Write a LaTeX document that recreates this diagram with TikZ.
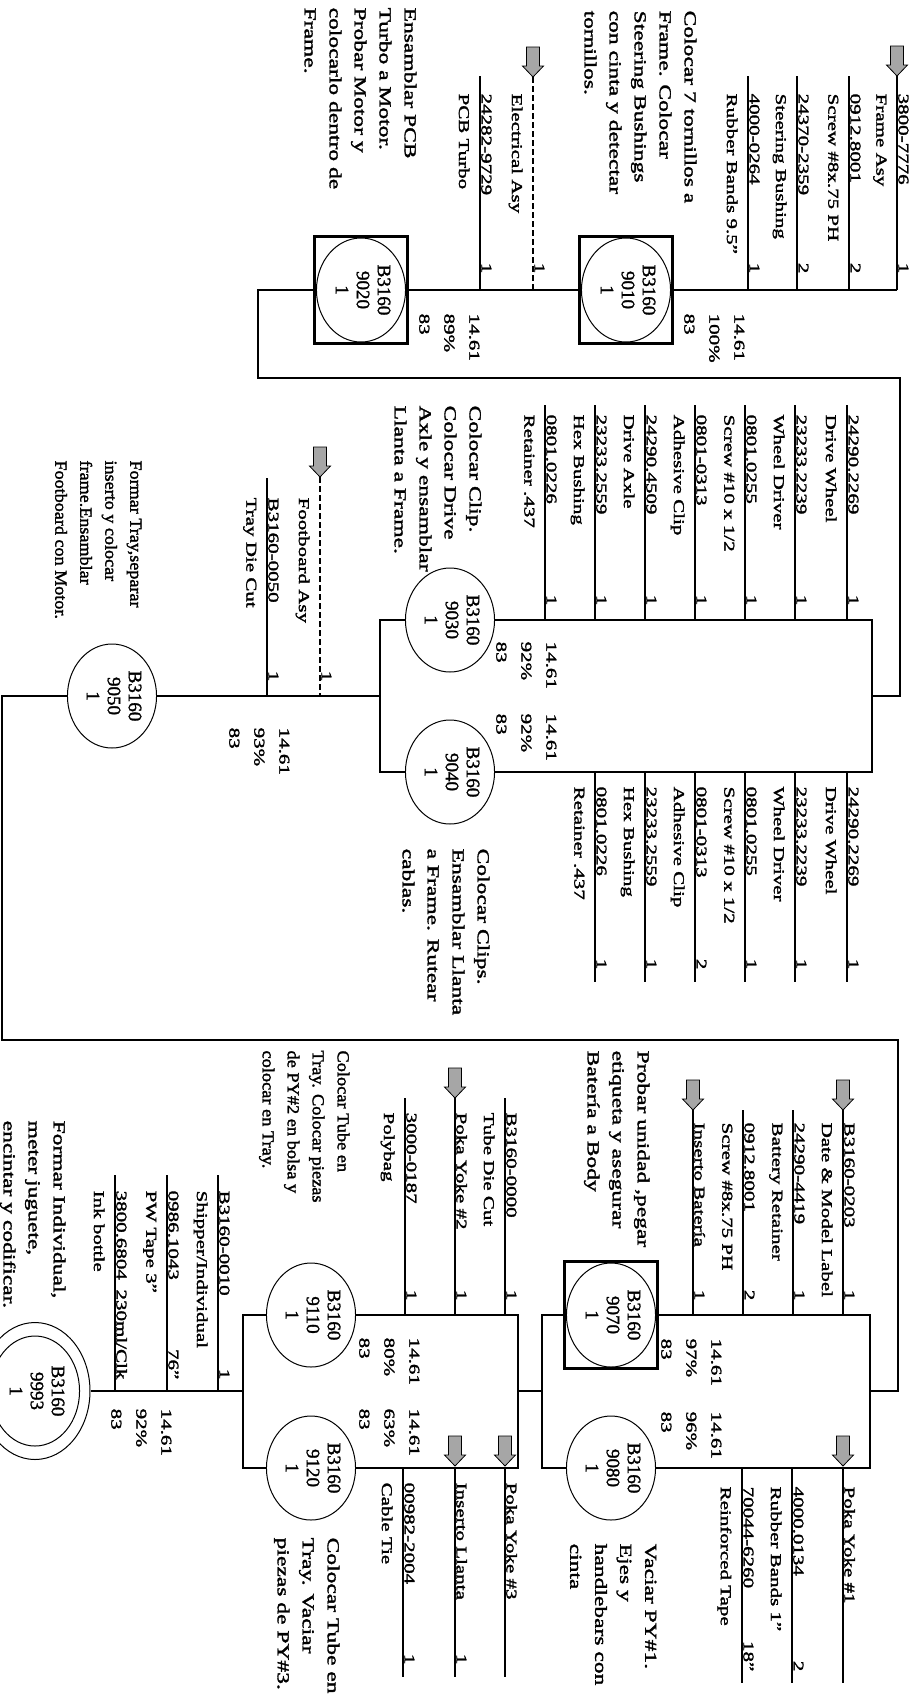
\documentclass[tikz,border=0pt]{standalone}
\usepackage{fontspec}
\setmainfont[FakeStretch=1.4,FakeBold=2]{Liberation Serif}
\newfontfamily\opfont[FakeBold=1.5]{Liberation Serif}
\usepackage{graphicx}
\usetikzlibrary{shapes.geometric}
\newcommand{\opid}[1]{\rotatebox{-90}{\begin{tabular}{@{}c@{}}B3160\\#1\\1\end{tabular}}}
\tikzset{
    feedarrow/.pic={\draw[fill=gray!70,line width=.8pt] (-6.5,-30) -- (6.5,-30) -- (6.5,-11) -- (10.5,-11) -- (0,0) -- (-10.5,-11) -- (-6.5,-11) -- cycle;}
}
\begin{document}
\begin{tikzpicture}[x=1pt,y=-1pt,line width=1.3pt,
        txt/.style={rotate=-90,inner sep=0pt,align=left,font=\fontsize{15}{25}\selectfont},
        desc/.style={txt,anchor=north west},
        opdesc/.style={desc,font=\fontsize{16.8}{25}\selectfont},
        stats/.style={desc},
        part/.style={txt,anchor=base west},
        qty/.style={txt,anchor=base east},
        opc/.style={ellipse,draw,line width=1pt,minimum width=88pt,minimum height=104pt,inner sep=0pt,font=\opfont\fontsize{19}{21}\selectfont},
        opbox/.style={rectangle,draw,line width=3.5pt,minimum width=93pt,minimum height=107pt},
        subasy/.style={dash pattern=on 6pt off 3pt}]
    \useasboundingbox (0,0) rectangle (910,1706);
    % operations
        \node[opc] (c9010) at (626,290) {\opid{9010}};
        \node[opbox] (s9010) at (626,290) {};
        \node[opc] (c9020) at (361,290) {\opid{9020}};
        \node[opbox] (s9020) at (361,290) {};
        \node[opc] (c9030) at (450,620) {\opid{9030}};
        \node[opc] (c9040) at (450,772) {\opid{9040}};
        \node[opc] (c9050) at (112,696) {\opid{9050}};
        \node[opc] (c9070) at (611,1315) {\opid{9070}};
        \node[opbox] (s9070) at (611,1315) {};
        \node[opc] (c9080) at (611,1468) {\opid{9080}};
        \node[opc] (c9110) at (311,1315) {\opid{9110}};
        \node[opc] (c9120) at (311,1468) {\opid{9120}};
        \node[opc,minimum width=86pt,minimum height=110pt] (c9993) at (35,1391) {\opid{9993}};
        \node[opc,minimum width=110pt,minimum height=137pt] (o9993) at (35,1391) {};
    % materials 9010 / 9020
        \foreach \x/\pn/\ds/\q in {897/3800-7776/Frame Asy/1,849/0912.8001/Screw \#8x.75 PH/2,797/24370-2359/Steering Bushing/2,748/4000-0264/Rubber Bands 9.5''/1,480/24282-9729/PCB Turbo/1}{
            \coordinate (ma\x) at (\x,76);
            \coordinate (na\x) at (\x,290);
            \draw (ma\x) -- (na\x);
            \node[part] (pa\x) at (\x+1.5,93) {\pn};
            \node[desc] (da\x) at (\x-10,93) {\ds};
            \node[qty] (qa\x) at (\x+1.5,274) {\q};
        }
        \coordinate (ma533) at (533,77);
        \coordinate (na533) at (533,290);
        \draw[subasy] (ma533) -- (na533);
        \node[desc] (da533) at (523,93) {Electrical Asy};
        \node[qty] (qa533) at (534.5,274) {1};
        \foreach \x in {897,533} \pic at (ma\x) {feedarrow};
    % materials 9030
        \foreach \x/\pn/\ds in {847/24290.2269/Drive Wheel,795/23233.2239/Wheel Driver,745/0801.0255/{Screw \#10 x 1/2},695/0801-0313/Adhesive Clip,645/24290.4509/Drive Axle,595/23233.2559/Hex Bushing,545/0801.0226/Retainer .437}{
            \coordinate (mb\x) at (\x,405);
            \coordinate (nb\x) at (\x,620);
            \draw (mb\x) -- (nb\x);
            \node[part] (pb\x) at (\x+1.5,414) {\pn};
            \node[desc] (db\x) at (\x-10,414) {\ds};
            \node[qty] (qb\x) at (\x+1.5,606) {1};
        }
    % materials 9040
        \foreach \x/\pn/\ds/\q in {847/24290.2269/Drive Wheel/1,795/23233.2239/Wheel Driver/1,745/0801.0255/{Screw \#10 x 1/2}/1,695/0801-0313/Adhesive Clip/2,645/23233.2559/Hex Bushing/1,595/0801.0226/Retainer .437/1}{
            \coordinate (mc\x) at (\x,772);
            \coordinate (nc\x) at (\x,982);
            \draw (mc\x) -- (nc\x);
            \node[part] (pc\x) at (\x+1.5,786) {\pn};
            \node[desc] (dc\x) at (\x-10,786) {\ds};
            \node[qty] (qc\x) at (\x+1.5,970) {\q};
        }
    % materials 9050
        \coordinate (md320) at (320,477);
        \coordinate (nd320) at (320,696);
        \pic at (md320) {feedarrow};
        \draw[subasy] (md320) -- (nd320);
        \node[desc] (dd320) at (310,497) {Footboard Asy};
        \node[qty] (qd320) at (321.5,682) {1};
        \coordinate (md267) at (267,478);
        \coordinate (nd267) at (267,696);
        \draw (md267) -- (nd267);
        \node[part] (pd267) at (268.5,497) {B3160-0050};
        \node[desc] (dd267) at (257,497) {Tray Die Cut};
        \node[qty] (qd267) at (268.5,682) {1};
    % materials 9070
        \foreach \x/\pn/\q in {843/B3160-0203/1,793/24290-4419/1,743/0912.8001/2,693/Inserto Batería/1}{
            \coordinate (me\x) at (\x,1110);
            \coordinate (ne\x) at (\x,1315);
            \draw (me\x) -- (ne\x);
            \node[part] (pe\x) at (\x+1.5,1122) {\pn};
            \node[qty] (qe\x) at (\x+1.5,1301) {\q};
        }
        \foreach \x/\ds in {843/Date \& Model Label,793/Battery Retainer,743/Screw \#8x.75 PH}
            \node[desc] (de\x) at (\x-10,1122) {\ds};
        \foreach \x in {843,693} \pic at (me\x) {feedarrow};
    % materials 9080
        \foreach \x/\pn in {843/Poka Yoke \#1,792/4000.0134,742/70044-6260}{
            \coordinate (mf\x) at (\x,1468);
            \coordinate (nf\x) at (\x,1683);
            \draw (mf\x) -- (nf\x);
            \node[part] (pf\x) at (\x+1.5,1486) {\pn};
        }
        \foreach \x/\ds/\q in {792/Rubber Bands 1''/2,742/Reinforced Tape/18''}{
            \node[desc] (df\x) at (\x-10,1486) {\ds};
            \node[qty] (qf\x) at (\x+1.5,1672) {\q};
        }
        \pic at (843,1466) {feedarrow};
    % materials 9110
        \foreach \x/\pn in {505/B3160-0000,455/Poka Yoke \#2,405/3000-0187}{
            \coordinate (mg\x) at (\x,1098);
            \coordinate (ng\x) at (\x,1315);
            \draw (mg\x) -- (ng\x);
            \node[part] (pg\x) at (\x+1.5,1112) {\pn};
            \node[qty] (qg\x) at (\x+1.5,1301) {1};
        }
        \foreach \x/\ds in {505/Tube Die Cut,405/Polybag}
            \node[desc] (dg\x) at (\x-10,1112) {\ds};
        \pic at (mg455) {feedarrow};
    % materials 9120
        \foreach \x/\pn in {505/Poka Yoke \#3,455/Inserto Llanta,403/00982-2004}{
            \coordinate (mh\x) at (\x,1468);
            \coordinate (nh\x) at (\x,1677);
            \draw (mh\x) -- (nh\x);
            \node[part] (ph\x) at (\x+1.5,1482) {\pn};
        }
        \foreach \x in {455,403} \node[qty] (qh\x) at (\x+1.5,1665) {1};
        \node[desc] (dh403) at (393,1482) {Cable Tie};
        \foreach \x in {505,455} \pic at (\x,1466) {feedarrow};
    % materials 9993
        \foreach \x/\pn/\ds/\q in {218/B3160-0010/{Shipper/Individual}/1,167/0986.1043/PW Tape 3''/76'',115/3800.6804/Ink bottle/{230ml/Clk}}{
            \coordinate (mi\x) at (\x,1175);
            \coordinate (ni\x) at (\x,1391);
            \draw (mi\x) -- (ni\x);
            \node[part] (pi\x) at (\x+1.5,1190) {\pn};
            \node[desc] (di\x) at (\x-10,1190) {\ds};
            \node[qty] (qi\x) at (\x+1.5,1380) {\q};
        }
    % flow
        \coordinate (r1) at (258,290);
        \coordinate (r2) at (258,378);
        \coordinate (r3) at (900,378);
        \coordinate (r4) at (900,696);
        \coordinate (k0) at (872,620);
        \coordinate (k1) at (872,696);
        \coordinate (k2) at (872,772);
        \coordinate (g0) at (380,620);
        \coordinate (g1) at (380,696);
        \coordinate (g2) at (380,772);
        \coordinate (h1) at (2,696);
        \coordinate (h2) at (2,1040);
        \coordinate (h3) at (898,1040);
        \coordinate (h4) at (898,1391);
        \coordinate (n0) at (870,1315);
        \coordinate (n1) at (870,1391);
        \coordinate (n2) at (870,1468);
        \coordinate (e0) at (542,1315);
        \coordinate (e1) at (542,1391);
        \coordinate (e2) at (542,1468);
        \coordinate (z0) at (518,1315);
        \coordinate (z1) at (518,1391);
        \coordinate (z2) at (518,1468);
        \coordinate (y0) at (243,1315);
        \coordinate (y1) at (243,1391);
        \coordinate (y2) at (243,1468);
        \draw (na897) -- (s9010);
        \draw (s9010) -- (s9020);
        \draw (s9020) -- (r1) -- (r2) -- (r3) -- (r4) -- (k1);
        \draw (c9030) -- (k0) -- (k2) -- (c9040);
        \draw (c9030) -- (g0) -- (g2) -- (c9040);
        \draw (g1) -- (c9050);
        \draw (c9050) -- (h1) -- (h2) -- (h3) -- (h4) -- (n1);
        \draw (s9070) -- (n0) -- (n2) -- (c9080);
        \draw (s9070) -- (e0) -- (e2) -- (c9080);
        \draw (e1) -- (z1);
        \draw (c9110) -- (z0) -- (z2) -- (c9120);
        \draw (c9110) -- (y0) -- (y2) -- (c9120);
        \draw (y1) -- (o9993);
    % labels
        \node[opdesc] (d9010) at (697,10) {Colocar 7 tornillos a\\Frame. Colocar\\Steering Bushings\\con cinta y detectar\\tornillos.};
        \node[stats] (l9010) at (745,313) {14.61\\100\%\\83};
        \node[opdesc] (d9020) at (417,7) {Ensamblar PCB\\Turbo a Motor.\\Probar Motor y\\colocarlo dentro de\\Frame.};
        \node[stats] (l9020) at (480,313) {14.61\\89\%\\83};
        \node[opdesc] (d9030) at (482,405) {Colocar Clip.\\Colocar Drive\\Axle y ensamblar\\Llanta a Frame.};
        \node[stats] (l9030) at (557,641) {14.61\\92\%\\83};
        \node[stats] (l9040) at (557,713) {14.61\\92\%\\83};
        \node[opdesc] (d9040) at (490,848) {Colocar Clips.\\Ensamblar Llanta\\a Frame. Rutear\\cablas.};
        \node[opdesc,xscale=0.77] (d9050) at (142,460) {Formar Tray,separar\\inserto y colocar\\frame.Ensamblar\\Footboard con Motor.};
        \node[stats] (l9050) at (290,727) {14.61\\93\%\\83};
        \node[opdesc] (d9070) at (650,1050) {Probar unidad ,pegar\\etiqueta y asegurar\\Batería a Body};
        \node[stats] (l9070) at (722,1338) {14.61\\97\%\\83};
        \node[stats] (l9080) at (722,1411) {14.61\\96\%\\83};
        \node[opdesc] (d9080) at (657,1543) {Vaciar PY\#1.\\Ejes y\\handlebars con\\cinta};
        \node[opdesc,xscale=0.78] (d9110) at (350,1050) {Colocar Tube en\\Tray. Colocar piezas\\de PY\#2 en bolsa y\\colocar en Tray.};
        \node[stats] (l9110) at (420,1337) {14.61\\80\%\\83};
        \node[stats] (l9120) at (420,1408) {14.61\\63\%\\83};
        \node[opdesc] (d9120) at (340,1537) {Colocar Tube en\\Tray. Vaciar\\piezas de PY\#3.};
        \node[stats] (l9993) at (172,1408) {14.61\\92\%\\83};
        \node[opdesc] (d9993) at (66,1120) {Formar Individual,\\meter juguete,\\encintar y codificar.};
\end{tikzpicture}
\end{document}
